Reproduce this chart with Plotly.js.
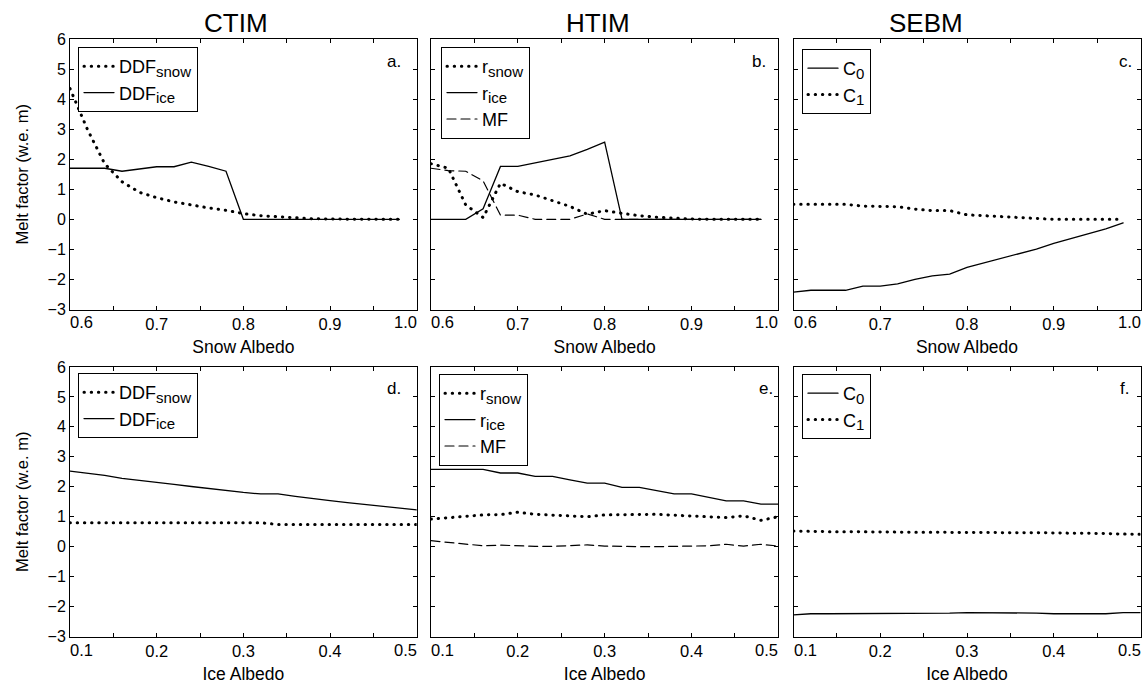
<!DOCTYPE html>
<html>
<head>
<meta charset="utf-8">
<script src="https://cdn.plot.ly/plotly-3.0.1.min.js"></script>
<style>
html,body{margin:0;padding:0;background:#fff;}
#chart{width:1145px;height:686px;}
#chart path.js-line{stroke-linecap:round;}
</style>
</head>
<body>
<div id="chart"></div>
<script>
// ---------------- data ----------------
const snowAlbedo = [0.60,0.62,0.64,0.66,0.68,0.70,0.72,0.74,0.76,0.78,0.80,0.82,0.84,0.86,0.88,0.90,0.92,0.94,0.96,0.98];
const iceAlbedo  = [0.10,0.12,0.14,0.16,0.18,0.20,0.22,0.24,0.26,0.28,0.30,0.32,0.34,0.36,0.38,0.40,0.42,0.44,0.46,0.48,0.50];

// (a) CTIM vs snow albedo
const ctimSnow_DDFsnow = [4.35,3.0,1.85,1.25,0.9,0.72,0.58,0.47,0.38,0.3,0.19,0.12,0.08,0.05,0.02,0.01,0,0,0,0];
const ctimSnow_DDFice  = [1.7,1.7,1.7,1.6,1.68,1.75,1.75,1.9,1.76,1.6,0,0,0,0,0,0,0,0,0,0];
// (b) HTIM vs snow albedo
const htimSnow_rsnow = [1.85,1.7,0.48,0.06,1.2,0.92,0.81,0.62,0.43,0.17,0.29,0.2,0.12,0.07,0.03,0.01,0,0,0,0];
const htimSnow_rice  = [0,0,0,0.35,1.76,1.76,1.87,1.98,2.11,2.33,2.57,0,0,0,0,0,0,0,0,0];
const htimSnow_MF    = [1.7,1.62,1.6,1.28,0.14,0.14,0,0,0,0.18,0,0,0,0,0,0,0,0,0,0];
// (c) SEBM vs snow albedo
const sebmSnow_C0 = [-2.42,-2.36,-2.36,-2.36,-2.22,-2.22,-2.15,-2.0,-1.88,-1.82,-1.6,-1.45,-1.3,-1.16,-0.99,-0.8,-0.64,-0.46,-0.32,-0.12];
const sebmSnow_C1 = [0.5,0.5,0.5,0.5,0.44,0.43,0.42,0.34,0.29,0.29,0.15,0.12,0.09,0.06,0.02,0,0,0,0,0];
// (d) CTIM vs ice albedo
const ctimIce_DDFsnow = [0.8,0.8,0.8,0.8,0.8,0.8,0.8,0.8,0.8,0.8,0.8,0.8,0.74,0.74,0.74,0.74,0.74,0.74,0.74,0.74,0.74];
const ctimIce_DDFice  = [2.52,2.45,2.38,2.28,2.22,2.15,2.08,2.01,1.94,1.87,1.81,1.76,1.76,1.68,1.6,1.54,1.47,1.41,1.35,1.29,1.23];
// (e) HTIM vs ice albedo
const htimIce_rsnow = [0.92,0.97,1.0,1.06,1.07,1.15,1.08,1.06,1.03,1.0,1.06,1.06,1.06,1.08,1.05,1.03,1.0,0.97,1.03,0.88,1.0];
const htimIce_rice  = [2.58,2.58,2.58,2.58,2.46,2.46,2.35,2.35,2.23,2.12,2.12,1.98,1.98,1.87,1.76,1.76,1.64,1.53,1.53,1.42,1.42];
const htimIce_MF    = [0.2,0.14,0.08,0.03,0.05,0.02,0.01,0.01,0.03,0.06,0.02,0,0,0,0.01,0.02,0.03,0.08,0.02,0.08,0.02];
// (f) SEBM vs ice albedo
const sebmIce_C0 = [-2.28,-2.24,-2.24,-2.24,-2.24,-2.24,-2.24,-2.24,-2.24,-2.22,-2.2,-2.2,-2.2,-2.2,-2.22,-2.24,-2.24,-2.24,-2.24,-2.2,-2.2];
const sebmIce_C1 = [0.52,0.5,0.5,0.5,0.49,0.49,0.49,0.48,0.48,0.48,0.47,0.47,0.47,0.46,0.46,0.46,0.45,0.45,0.44,0.42,0.41];

// tick labels
const snowTickVals = [0.7,0.8,0.9];
const snowTickText = ['0.7','0.8','0.9'];
const snowEndVals  = [0.6,1.0];
const snowEndText  = ['0.6','1.0'];
const iceTickVals  = [0.2,0.3,0.4];
const iceTickText  = ['0.2','0.3','0.4'];
const iceEndVals   = [0.1,0.5];
const iceEndText   = ['0.1','0.5'];
const columnTitles = ['CTIM','HTIM','SEBM'];
const panelLetters = ['a.','b.','c.','d.','e.','f.'];
const yTitle = 'Melt factor (w.e. m)';

// ---------------- layout helpers ----------------
const W = 1145, H = 686;
const FONT = 'Liberation Sans, Arial, Helvetica, sans-serif';
const px = v => v / W;
const py = v => 1 - v / H;
const colPx = [[70,416.7],[431,778.3],[793.5,1140.5]];
const rowPx = [[39,309.5],[367,636.5]];

const solid  = {color:'black', width:1.3};
const dotted = {color:'black', width:3, dash:'0.4px,6.8px'};
const dashed = {color:'black', width:1.2, dash:'9px,5px'};

const sub = s => '<sub><span style="font-size:15px">' + s + '</span></sub>';

const traces = [];
function add(panel, x, y, name, line){
  const n = panel + 1;
  traces.push({
    type:'scatter', mode:'lines', x:x, y:y, name:name, line:line,
    xaxis: n===1 ? 'x' : 'x'+n, yaxis: n===1 ? 'y' : 'y'+n,
    legend: n===1 ? 'legend' : 'legend'+n, showlegend:true, hoverinfo:'skip'
  });
}
add(0, snowAlbedo, ctimSnow_DDFsnow, 'DDF' + sub('snow'), dotted);
add(0, snowAlbedo, ctimSnow_DDFice, 'DDF' + sub('ice'), solid);
add(1, snowAlbedo, htimSnow_rsnow, 'r' + sub('snow'), dotted);
add(1, snowAlbedo, htimSnow_rice, 'r' + sub('ice'), solid);
add(1, snowAlbedo, htimSnow_MF, 'MF', dashed);
add(2, snowAlbedo, sebmSnow_C0, 'C' + sub('0'), solid);
add(2, snowAlbedo, sebmSnow_C1, 'C' + sub('1'), dotted);
add(3, iceAlbedo, ctimIce_DDFsnow, 'DDF' + sub('snow'), dotted);
add(3, iceAlbedo, ctimIce_DDFice, 'DDF' + sub('ice'), solid);
add(4, iceAlbedo, htimIce_rsnow, 'r' + sub('snow'), dotted);
add(4, iceAlbedo, htimIce_rice, 'r' + sub('ice'), solid);
add(4, iceAlbedo, htimIce_MF, 'MF', dashed);
add(5, iceAlbedo, sebmIce_C0, 'C' + sub('0'), solid);
add(5, iceAlbedo, sebmIce_C1, 'C' + sub('1'), dotted);

const layout = {
  width: W, height: H,
  margin: {l:0, r:0, t:0, b:0},
  paper_bgcolor: 'white', plot_bgcolor: 'white',
  font: {family: FONT, color: 'black', size: 16},
  showlegend: true,
  annotations: []
};

const legendPos = [[78,47],[441,47],[802,49],[78,373],[439,374],[802,374]];
const letterPos = [[403,62],[768,62],[1134,62],[403,388],[775,388],[1131,388]];
const endLabelY = [322, 650];

for (let p = 0; p < 6; p++){
  const n = p + 1;
  const col = p % 3, row = Math.floor(p / 3);
  const xk = n===1 ? 'xaxis' : 'xaxis'+n;
  const yk = n===1 ? 'yaxis' : 'yaxis'+n;
  const xref = n===1 ? 'x' : 'x'+n;
  const anchorX = n===1 ? 'y' : 'y'+n;
  const isSnow = row === 0;
  layout[xk] = {
    domain: [px(colPx[col][0]), px(colPx[col][1])],
    anchor: anchorX,
    range: isSnow ? [0.6, 1.0] : [0.1, 0.5],
    tickmode: 'array',
    tickvals: isSnow ? snowTickVals : iceTickVals,
    ticktext: isSnow ? snowTickText : iceTickText,
    ticks: 'inside', ticklen: 4, tickwidth: 1, tickcolor: 'black',
    minor: {tickmode: 'linear', tick0: 0.1, dtick: 0.05, ticks: 'inside', ticklen: 4, tickwidth: 1, tickcolor: 'black', showgrid: false},
    showline: true, linecolor: 'black', linewidth: 1, mirror: 'ticks',
    showgrid: false, zeroline: false,
    tickfont: {family: FONT, size: 16.5, color: 'black'},
    title: {text: isSnow ? 'Snow Albedo' : 'Ice Albedo', font: {family: FONT, size: 17.5, color: 'black'}, standoff: 8},
    automargin: false, fixedrange: true
  };
  layout[yk] = {
    domain: [py(rowPx[row][1]), py(rowPx[row][0])],
    anchor: xref,
    range: [-3, 6], tick0: 0, dtick: 1,
    ticks: 'inside', ticklen: 4, tickwidth: 1, tickcolor: 'black',
    showline: true, linecolor: 'black', linewidth: 1, mirror: 'ticks',
    showgrid: false, zeroline: false,
    showticklabels: col === 0,
    tickfont: {family: FONT, size: 16, color: 'black'},
    title: col === 0 ? {text: yTitle, font: {family: FONT, size: 16.5, color: 'black'}, standoff: 14} : {text: ''},
    automargin: false, fixedrange: true
  };
  const lk = n===1 ? 'legend' : 'legend'+n;
  layout[lk] = {
    x: px(legendPos[p][0]), y: py(legendPos[p][1]),
    xanchor: 'left', yanchor: 'top', xref: 'paper', yref: 'paper',
    bgcolor: 'white', bordercolor: 'black', borderwidth: 1,
    font: {family: FONT, size: 18, color: 'black'},
    itemwidth: 30, tracegroupgap: 0, traceorder: 'normal'
  };
  layout.annotations.push({
    xref: 'paper', yref: 'paper', x: px(letterPos[p][0]), y: py(letterPos[p][1]),
    xanchor: 'right', yanchor: 'middle', showarrow: false, text: panelLetters[p],
    font: {family: FONT, size: 17, color: 'black'}
  });
  // end-of-range tick labels, kept inside the panel like the original
  const ev = isSnow ? snowEndVals : iceEndVals;
  const et = isSnow ? snowEndText : iceEndText;
  for (let k = 0; k < 2; k++){
    layout.annotations.push({
      xref: xref, yref: 'paper', x: ev[k], y: py(endLabelY[row]),
      xanchor: k === 0 ? 'left' : 'right', yanchor: 'middle', showarrow: false,
      text: et[k], xshift: k === 0 ? -2 : 2,
      font: {family: FONT, size: 16.5, color: 'black'}
    });
  }
}

const titleX = [236, 598, 926];
for (let c = 0; c < 3; c++){
  layout.annotations.push({
    xref: 'paper', yref: 'paper', x: px(titleX[c]), y: py(23),
    xanchor: 'center', yanchor: 'middle', showarrow: false, text: columnTitles[c],
    font: {family: FONT, size: 26, color: 'black'}
  });
}

Plotly.newPlot('chart', traces, layout, {staticPlot: true, displayModeBar: false});
</script>
</body>
</html>
